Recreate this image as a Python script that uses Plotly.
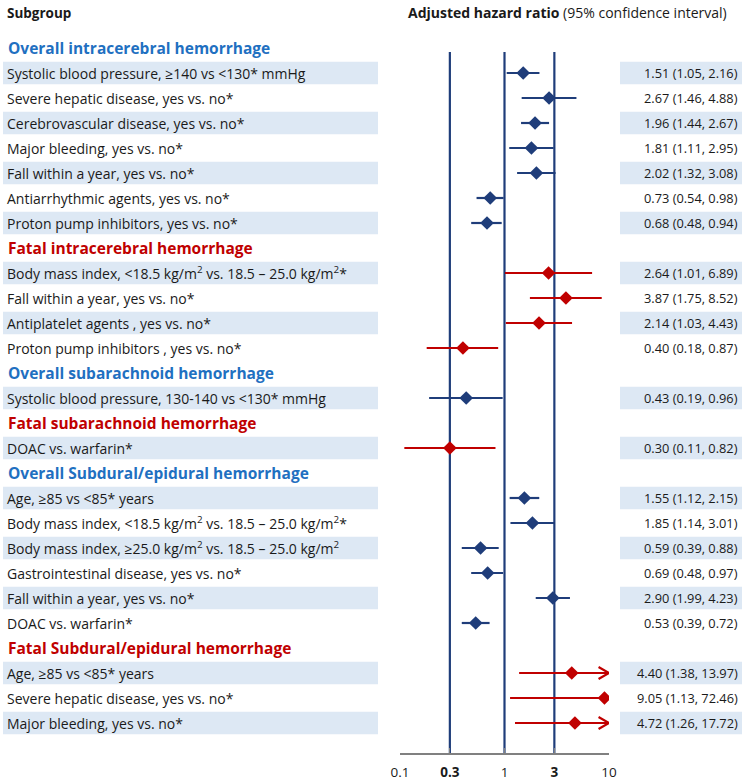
import plotly.graph_objects as go

# ---------------- data ----------------
groups = [
    ("Overall intracerebral hemorrhage", "overall"),
    ("Fatal intracerebral hemorrhage", "fatal"),
    ("Overall subarachnoid hemorrhage", "overall"),
    ("Fatal subarachnoid hemorrhage", "fatal"),
    ("Overall Subdural/epidural hemorrhage", "overall"),
    ("Fatal Subdural/epidural hemorrhage", "fatal"),
]
group_labels = [
    ["Systolic blood pressure, ≥140 vs <130* mmHg",
     "Severe hepatic disease, yes vs. no*",
     "Cerebrovascular disease, yes vs. no*",
     "Major bleeding, yes vs. no*",
     "Fall within a year, yes vs. no*",
     "Antiarrhythmic agents, yes vs. no*",
     "Proton pump inhibitors, yes vs. no*"],
    ["Body mass index, <18.5 kg/m<sup>2</sup> vs. 18.5 – 25.0 kg/m<sup>2</sup>*",
     "Fall within a year, yes vs. no*",
     "Antiplatelet agents , yes vs. no*",
     "Proton pump inhibitors , yes vs. no*"],
    ["Systolic blood pressure, 130-140 vs <130* mmHg"],
    ["DOAC vs. warfarin*"],
    ["Age, ≥85 vs <85* years",
     "Body mass index, <18.5 kg/m<sup>2</sup> vs. 18.5 – 25.0 kg/m<sup>2</sup>*",
     "Body mass index, ≥25.0 kg/m<sup>2</sup> vs. 18.5 – 25.0 kg/m<sup>2</sup>",
     "Gastrointestinal disease, yes vs. no*",
     "Fall within a year, yes vs. no*",
     "DOAC vs. warfarin*"],
    ["Age, ≥85 vs <85* years",
     "Severe hepatic disease, yes vs. no*",
     "Major bleeding, yes vs. no*"],
]
hr = [
    [1.51, 2.67, 1.96, 1.81, 2.02, 0.73, 0.68],
    [2.64, 3.87, 2.14, 0.40],
    [0.43],
    [0.30],
    [1.55, 1.85, 0.59, 0.69, 2.90, 0.53],
    [4.40, 9.05, 4.72],
]
ci_low = [
    [1.05, 1.46, 1.44, 1.11, 1.32, 0.54, 0.48],
    [1.01, 1.75, 1.03, 0.18],
    [0.19],
    [0.11],
    [1.12, 1.14, 0.39, 0.48, 1.99, 0.39],
    [1.38, 1.13, 1.26],
]
ci_high = [
    [2.16, 4.88, 2.67, 2.95, 3.08, 0.98, 0.94],
    [6.89, 8.52, 4.43, 0.87],
    [0.96],
    [0.82],
    [2.15, 3.01, 0.88, 0.97, 4.23, 0.72],
    [13.97, 72.46, 17.72],
]
banded_rows = [1, 3, 5, 7, 9, 11, 14, 16, 18, 20, 22, 25, 27]
ref_lines = [0.3, 1, 3]
tick_vals = [0.1, 0.3, 1, 3, 10]
tick_text = ["0.1", "<b>0.3</b>", "1", "<b>3</b>", "10"]

# ---------------- style ----------------
W, H = 749, 784
NAVY = "#1f3d7a"
RED = "#c00000"
BLUE_H = "#1f70c1"
BAND = "#dde8f4"
TXT = "#1a1a1a"
FONT = "Open Sans"
ROW_H = 25.0
TOP = 48.0
AX_BOTTOM = 753
XMIN, XMAX = 0.1, 10

fig = go.Figure()
shapes = []
annotations = []

row = 0
for gi, (gname, kind) in enumerate(groups):
    annotations.append(dict(
        x=6 / W, xref="paper", y=row, yref="y", xanchor="left", yanchor="middle",
        text=f"<b>{gname}</b>", showarrow=False,
        font=dict(family=FONT, size=15.5, color=BLUE_H if kind == "overall" else RED)))
    row += 1
    col = NAVY if kind == "overall" else RED
    for j, lab in enumerate(group_labels[gi]):
        if row in banded_rows:
            shapes.append(dict(type="rect", xref="paper", yref="y", x0=3 / W, x1=378 / W,
                               y0=row - 0.45, y1=row + 0.45, fillcolor=BAND, line_width=0, layer="below"))
            shapes.append(dict(type="rect", xref="paper", yref="y", x0=620 / W, x1=742 / W,
                               y0=row - 0.45, y1=row + 0.45, fillcolor=BAND, line_width=0, layer="below"))
        annotations.append(dict(
            x=5 / W, xref="paper", y=row, yref="y", xanchor="left", yanchor="middle",
            text=lab, showarrow=False, font=dict(family=FONT, size=14, color=TXT)))
        h, lo, hi = hr[gi][j], ci_low[gi][j], ci_high[gi][j]
        annotations.append(dict(
            x=740 / W, xref="paper", y=row, yref="y", xanchor="right", yanchor="middle",
            text=f"{h:.2f} ({lo:.2f}, {hi:.2f})", showarrow=False,
            font=dict(family=FONT, size=12.8, color=TXT)))
        hi_c = min(hi, XMAX)
        fig.add_trace(go.Scatter(x=[lo, hi_c], y=[row, row], mode="lines",
                                 line=dict(color=col, width=2.2), hoverinfo="skip", showlegend=False))
        if hi > XMAX and h < XMAX * 0.8:
            back = XMAX / 10 ** 0.1
            fig.add_trace(go.Scatter(x=[back, XMAX, back], y=[row - 0.24, row, row + 0.24],
                                     mode="lines", line=dict(color=col, width=2.2),
                                     hoverinfo="skip", showlegend=False))
        fig.add_trace(go.Scatter(x=[h], y=[row], mode="markers",
                                 marker=dict(symbol="diamond", size=10.5, color=col),
                                 hoverinfo="skip", showlegend=False))
        row += 1

for rv in ref_lines:
    shapes.append(dict(type="line", xref="x", yref="paper", x0=rv, x1=rv,
                       y0=0, y1=(AX_BOTTOM - 52) / AX_BOTTOM,
                       line=dict(color=NAVY, width=2.2), layer="below"))

annotations.append(dict(x=5 / W, xref="paper", y=(AX_BOTTOM - 13) / AX_BOTTOM, yref="paper",
                        xanchor="left", yanchor="middle", text="<b>Subgroup</b>", showarrow=False,
                        font=dict(family=FONT, size=13.5, color=TXT)))
annotations.append(dict(x=567 / W, xref="paper", y=(AX_BOTTOM - 13) / AX_BOTTOM, yref="paper",
                        xanchor="center", yanchor="middle",
                        text="<b>Adjusted hazard ratio</b> (95% confidence interval)", showarrow=False,
                        font=dict(family=FONT, size=14, color=TXT)))

y_top = (0 - TOP) / ROW_H
y_bot = (AX_BOTTOM - TOP) / ROW_H

fig.update_layout(
    width=W, height=H,
    margin=dict(l=0, r=0, t=0, b=H - AX_BOTTOM, autoexpand=False),
    paper_bgcolor="white", plot_bgcolor="rgba(0,0,0,0)",
    shapes=shapes, annotations=annotations,
    xaxis=dict(type="log", range=[-1, 1], domain=[400 / W, 609 / W],
               tickvals=tick_vals, ticktext=tick_text, ticks="inside", ticklen=5,
               tickcolor="#808080", showline=True, linecolor="#808080", linewidth=1.5,
               showgrid=False, zeroline=False, ticklabelstandoff=6,
               tickfont=dict(family=FONT, size=13.5, color=TXT)),
    yaxis=dict(range=[y_bot, y_top], showgrid=False, zeroline=False,
               showticklabels=False, showline=False, domain=[0, 1]),
)

fig.write_html("out.html", config={"displayModeBar": False},
               post_script="document.body.style.margin='0';")
